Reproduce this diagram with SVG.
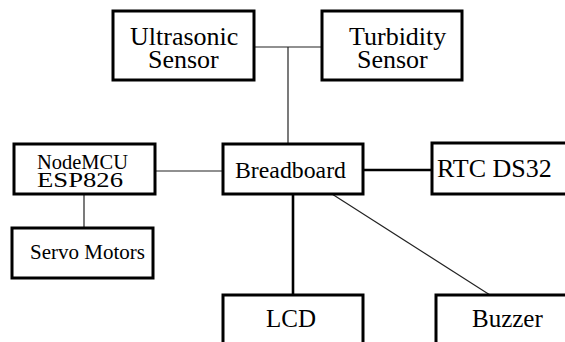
<svg xmlns="http://www.w3.org/2000/svg" width="565" height="342" viewBox="0 0 565 342">
<style>
.box{fill:#fff;stroke:#000;stroke-width:3}
.t{font-family:"Liberation Serif","Times New Roman",serif;fill:#000}
.thin{stroke:#222;stroke-width:1.2;fill:none}
.thick{stroke:#000;stroke-width:2.6;fill:none}
</style>
<rect width="565" height="342" fill="#fff"/>
<g id="connectors">
<line class="thin" x1="254" y1="47" x2="322" y2="47"/>
<line class="thin" x1="288" y1="47" x2="288" y2="144"/>
<line class="thin" x1="155" y1="171" x2="223" y2="171"/>
<line class="thick" x1="363" y1="170" x2="432" y2="170"/>
<line class="thin" x1="84" y1="194" x2="84" y2="228"/>
<line class="thick" x1="293" y1="194" x2="293" y2="295"/>
<line class="thin" x1="332" y1="194" x2="490" y2="295"/>
</g>
<g id="ultrasonic">
<rect class="box" x="113" y="11" width="141" height="69"/>
<text class="t" x="130" y="45" font-size="26">Ultrasonic</text>
<text class="t" x="148" y="68" font-size="26">Sensor</text>
</g>
<g id="turbidity">
<rect class="box" x="322" y="11" width="140" height="69"/>
<text class="t" x="349" y="45" font-size="26">Turbidity</text>
<text class="t" x="357" y="68" font-size="26">Sensor</text>
</g>
<g id="nodemcu">
<rect class="box" x="14" y="144" width="141" height="50"/>
<text class="t" x="37" y="169" font-size="20.5" textLength="91" lengthAdjust="spacingAndGlyphs">NodeMCU</text>
<text class="t" x="37" y="187" font-size="22" textLength="86" lengthAdjust="spacingAndGlyphs">ESP826</text>
</g>
<g id="breadboard">
<rect class="box" x="223" y="144" width="140" height="50"/>
<text class="t" x="235" y="178" font-size="23" textLength="111" lengthAdjust="spacingAndGlyphs">Breadboard</text>
</g>
<g id="rtc">
<rect class="box" x="432" y="143" width="140" height="51"/>
<text class="t" x="437" y="177" font-size="26">RTC DS32</text>
</g>
<g id="servo">
<rect class="box" x="12" y="228" width="141" height="50"/>
<text class="t" x="30" y="259" font-size="21">Servo Motors</text>
</g>
<g id="lcd">
<rect class="box" x="223" y="295" width="140" height="60"/>
<text class="t" x="266" y="327" font-size="25">LCD</text>
</g>
<g id="buzzer">
<rect class="box" x="436" y="295" width="140" height="60"/>
<text class="t" x="472" y="327" font-size="25">Buzzer</text>
</g>
</svg>
